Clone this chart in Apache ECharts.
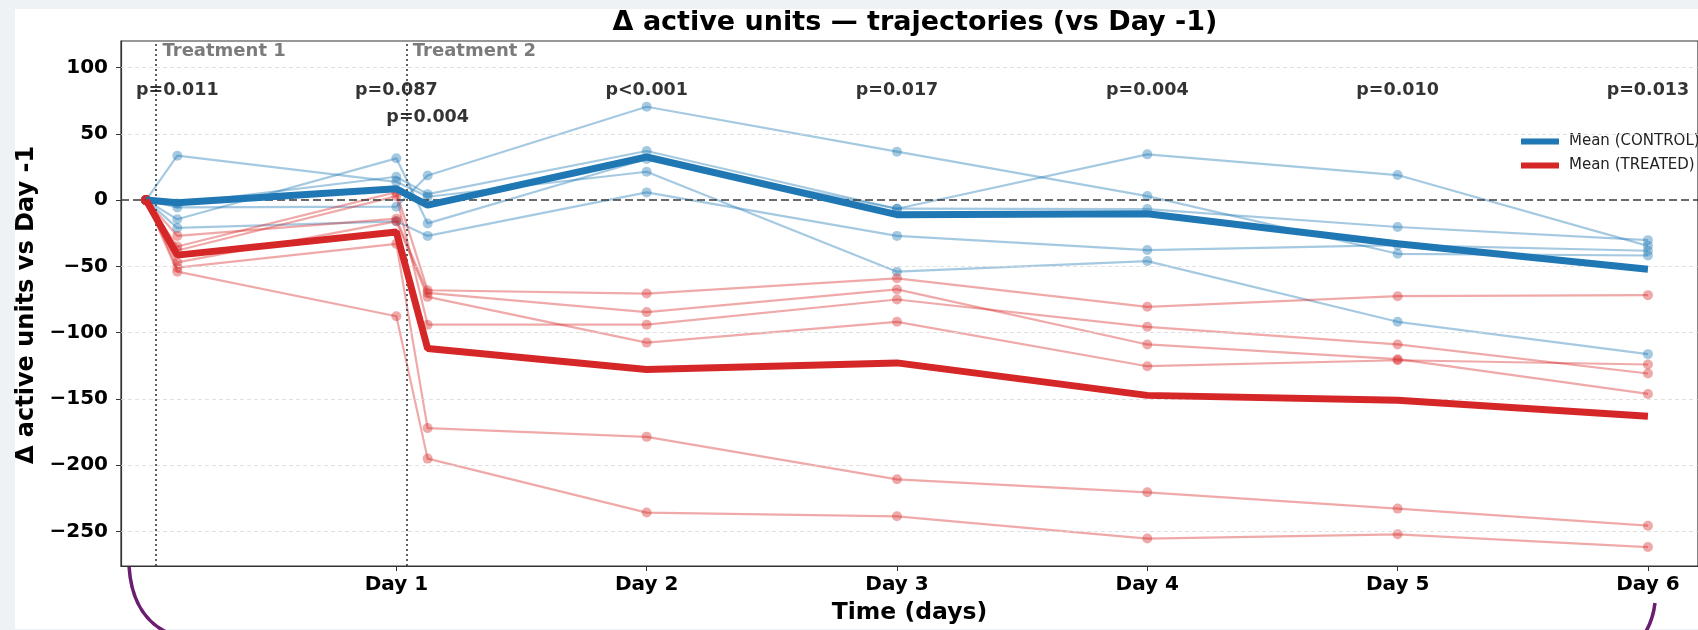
<!DOCTYPE html>
<html><head><meta charset="utf-8">
<script src="https://cdn.jsdelivr.net/npm/echarts@6/dist/echarts.min.js"></script>
<style>
html,body{margin:0;padding:0;background:#eef2f5;width:1698px;height:630px;overflow:hidden}
#card{position:absolute;left:15px;top:9px;width:1683px;height:620px;background:#fff}
#chart{position:absolute;left:0;top:0;width:1698px;height:630px}
</style></head><body>
<div id="card"></div><div id="chart"></div>
<script>
// time points (days): baseline, +3h, Day 1, Day 1 +3h, Day 2..6
const times = [0, 0.125, 1, 1.125, 2, 3, 4, 5, 6];

const control1 = [0, 33.5, 13.8, 2.5, 21.4, -54, -46, -91.8, -116.2];
const control2 = [0, -14.5, 31.5, -17.6, 31, -6.5, -6.8, -20.3, -30.2];
const control3 = [0, -21, -16, -27, 5.8, -27, -37.7, -34, -38.2];
const control4 = [0, -2.5, 17.6, 4.5, 37, -6.5, 34.5, 18.9, -34.5];
const control5 = [0, -5.5, -5, 18.6, 70.4, 36.5, 3.0, -40.5, -41.8];

const treated1 = [0, -35, 6, -68, -70.5, -59, -80.5, -72.5, -71.7];
const treated2 = [0, -38, 3, -94, -94, -75, -95.6, -108.9, -130.8];
const treated3 = [0, -27, -14, -70, -84.5, -67.4, -108.9, -120, -146.2];
const treated4 = [0, -47, -16, -73, -107.5, -91.8, -125.3, -120.8, -124];
const treated5 = [0, -51, -33, -172, -178.6, -210.6, -220.4, -232.7, -245.6];
const treated6 = [0, -54, -87.6, -195, -235.7, -238.5, -255.3, -252.1, -261.7];

const controlMean = [0, -2, 8.5, -3.8, 32.5, -11, -10.3, -33, -52.2];
const treatedMean = [0, -41.5, -24, -112, -127.8, -122.8, -147.3, -151, -163.1];

const dayTicks = [1, 2, 3, 4, 5, 6];
const dayLabels = ['Day 1', 'Day 2', 'Day 3', 'Day 4', 'Day 5', 'Day 6'];
const yTicks = [-250, -200, -150, -100, -50, 0, 50, 100];

const treatmentTimes = [0.0417, 1.0417];
const treatmentLabels = ['Treatment 1', 'Treatment 2'];

const pTimes = [0.125, 1, 1.125, 2, 3, 4, 5, 6];
const pLabels = ['p=0.011', 'p=0.087', 'p=0.004', 'p<0.001', 'p=0.017', 'p=0.004', 'p=0.010', 'p=0.013'];
const pRows = [0, 0, 1, 0, 0, 0, 0, 0];

const BLUE = '#1f77b4', RED = '#d62728';
const FONT = 'DejaVu Sans';

function pairs(vals) { return times.map((t, i) => [t, vals[i]]); }

function indiv(vals, color) {
  return {
    type: 'line', data: pairs(vals), color: color,
    symbol: 'circle', symbolSize: 10, showSymbol: true,
    lineStyle: { width: 2.2, opacity: 0.4 },
    itemStyle: { opacity: 0.4 },
    z: 2, silent: true, animation: false, legendHoverLink: false
  };
}

const series = [];
[control1, control2, control3, control4, control5].forEach(v => series.push(indiv(v, BLUE)));
[treated1, treated2, treated3, treated4, treated5, treated6].forEach(v => series.push(indiv(v, RED)));

// reference lines
series.push({
  type: 'line', data: [], silent: true, animation: false,
  markLine: {
    silent: true, symbol: 'none', animation: false, label: { show: false },
    data: yTicks.filter(v => v !== 0).map(v => ({ yAxis: v, lineStyle: { color: '#d9d9d9', type: [4, 3], width: 0.8 } }))
      .concat([{ yAxis: 0, lineStyle: { color: '#3a3a3a', type: [8, 4], width: 1.6 } }])
      .concat(treatmentTimes.map(t => ({ xAxis: t, lineStyle: { color: '#444', type: [2, 3], width: 1.7 } })))
  },
  z: 1
});

series.push({
  type: 'line', name: 'Mean (CONTROL)', data: pairs(controlMean), color: BLUE,
  showSymbol: false, lineStyle: { width: 7 }, z: 5, silent: true, animation: false
});
series.push({
  type: 'line', name: 'Mean (TREATED)', data: pairs(treatedMean), color: RED,
  showSymbol: false, lineStyle: { width: 7 }, z: 5, silent: true, animation: false
});

// treatment labels
series.push({
  type: 'scatter', symbolSize: 0, silent: true, animation: false, z: 6,
  data: treatmentTimes.map((t, i) => [t, 112.5, treatmentLabels[i]]),
  label: { show: true, position: 'right', distance: 6, formatter: p => p.data[2],
    fontFamily: FONT, fontWeight: 'bold', fontSize: 18, color: '#5a5a5a' }
});
// p-value labels
series.push({
  type: 'scatter', symbolSize: 0, silent: true, animation: false, z: 6,
  data: pTimes.map((t, i) => [t, pRows[i] ? 62.6 : 83, pLabels[i]]),
  label: { show: true, position: 'inside', formatter: p => p.data[2],
    fontFamily: FONT, fontWeight: 'bold', fontSize: 17.5, color: '#000' }
});

const chart = echarts.init(document.getElementById('chart'), null, { renderer: 'canvas' });
chart.setOption({
  animation: false,
  textStyle: { fontFamily: FONT },
  title: {
    text: 'Δ active units — trajectories (vs Day -1)', left: 915, top: 9, textAlign: 'center', padding: 0,
    textStyle: { fontFamily: FONT, fontWeight: 'bold', fontSize: 27, color: '#000' }
  },
  legend: {
    data: ['Mean (CONTROL)', 'Mean (TREATED)'], orient: 'vertical', left: 1521, top: 134, padding: 0,
    icon: 'rect', itemWidth: 38, itemHeight: 6, itemGap: 9,
    textStyle: { fontFamily: FONT, fontSize: 15, color: '#222', padding: [0, 0, 0, 5] }, selectedMode: false
  },
  grid: { left: 121, top: 41, width: 1589, height: 525, show: true, borderColor: '#333', borderWidth: 1.2, backgroundColor: 'transparent' },
  xAxis: {
    type: 'value', min: -0.1, max: 6.2,
    name: 'Time (days)', nameLocation: 'middle', nameGap: 35,
    nameTextStyle: { fontFamily: FONT, fontWeight: 'bold', fontSize: 23.5, color: '#000' },
    axisLine: { show: true, onZero: false, lineStyle: { color: '#333', width: 1.2 } },
    axisTick: { show: true, customValues: dayTicks, length: 5, lineStyle: { color: '#333' } },
    axisLabel: { customValues: dayTicks, margin: 9, formatter: v => dayLabels[dayTicks.indexOf(v)],
      fontFamily: FONT, fontWeight: 'bold', fontSize: 20, color: '#000' },
    splitLine: { show: false }
  },
  yAxis: {
    type: 'value', min: -276, max: 120,
    axisLine: { show: true, onZero: false, lineStyle: { color: '#333', width: 1.2 } },
    axisTick: { show: true, customValues: yTicks, length: 5, lineStyle: { color: '#333' } },
    axisLabel: { customValues: yTicks, margin: 13, formatter: v => (v < 0 ? '\u2212' + Math.abs(v) : String(v)),
      fontFamily: FONT, fontWeight: 'bold', fontSize: 20, color: '#000' },
    splitLine: { show: false }
  },
  graphic: [
    { type: 'text', silent: true, x: 27, y: 305, rotation: Math.PI / 2,
      style: { text: 'Δ active units vs Day -1', align: 'center', verticalAlign: 'middle',
        font: 'bold 24px "DejaVu Sans"', fill: '#000' } },
    { type: 'bezierCurve', silent: true,
      shape: { x1: 129, y1: 566, cpx1: 132, cpy1: 616, x2: 168, y2: 633 },
      style: { stroke: '#6b1d70', lineWidth: 3.5, fill: null } },
    { type: 'bezierCurve', silent: true,
      shape: { x1: 1655, y1: 603, cpx1: 1653, cpy1: 620, x2: 1645, y2: 633 },
      style: { stroke: '#6b1d70', lineWidth: 3.5, fill: null } }
  ],
  series: series
});
</script>
</body></html>
